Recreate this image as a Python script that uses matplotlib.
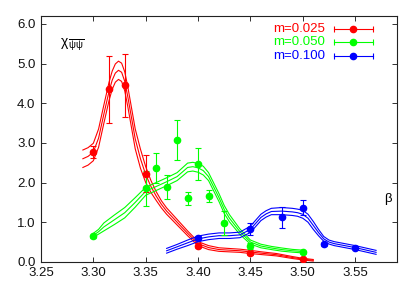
import matplotlib
matplotlib.use("Agg")
import matplotlib.pyplot as plt
import numpy as np

plt.rcParams['font.family'] = ['Liberation Sans', 'DejaVu Sans']
plt.rcParams['mathtext.fontset'] = 'dejavusans'
plt.rcParams['mathtext.default'] = 'regular'

# ---- data points (beta, chi, error) ----
red_x = [3.30, 3.315, 3.33, 3.35, 3.40, 3.45, 3.50]
red_y = [2.77, 4.35, 4.45, 2.22, 0.41, 0.22, 0.06]
red_e = [0.15, 0.85, 0.80, 0.47, 0.07, 0.04, 0.02]

green_x = [3.30, 3.35, 3.36, 3.37, 3.38, 3.39, 3.40, 3.41, 3.425, 3.45, 3.50]
green_y = [0.65, 1.86, 2.36, 1.88, 3.07, 1.60, 2.47, 1.66, 0.99, 0.40, 0.24]
green_e = [0.04, 0.44, 0.38, 0.30, 0.50, 0.17, 0.40, 0.15, 0.30, 0.08, 0.04]

blue_x = [3.40, 3.45, 3.48, 3.50, 3.52, 3.55]
blue_y = [0.60, 0.83, 1.12, 1.37, 0.44, 0.36]
blue_e = [0.05, 0.16, 0.26, 0.18, 0.04, 0.03]

# ---- reweighting curves (centre and half-width) ----
red_cx = [3.290, 3.295, 3.300, 3.305, 3.310, 3.315, 3.318, 3.321, 3.324, 3.327,
          3.330, 3.333, 3.336, 3.340, 3.345, 3.350, 3.355, 3.360, 3.365, 3.370,
          3.380, 3.390, 3.400, 3.410, 3.420, 3.440, 3.450, 3.460, 3.475, 3.490,
          3.500, 3.510]
red_cy = [2.60, 2.66, 2.77, 3.12, 3.72, 4.30, 4.58, 4.76, 4.83, 4.78,
          4.55, 4.15, 3.70, 3.10, 2.60, 2.20, 1.90, 1.66, 1.45, 1.28,
          1.00, 0.72, 0.46, 0.36, 0.31, 0.28, 0.25, 0.22, 0.18, 0.11,
          0.07, 0.04]
red_ce = [0.22, 0.22, 0.22, 0.23, 0.23, 0.23, 0.23, 0.23, 0.23, 0.23,
          0.24, 0.25, 0.25, 0.25, 0.24, 0.20, 0.15, 0.11, 0.09, 0.08,
          0.07, 0.06, 0.05, 0.05, 0.045, 0.04, 0.04, 0.035, 0.03, 0.025,
          0.02, 0.02]

green_cx = [3.300, 3.305, 3.310, 3.320, 3.330, 3.340, 3.350, 3.360, 3.370, 3.380,
            3.390, 3.395, 3.400, 3.405, 3.410, 3.420, 3.425, 3.430, 3.440, 3.450,
            3.460, 3.470, 3.480, 3.490, 3.500]
green_cy = [0.67, 0.76, 0.88, 1.06, 1.24, 1.50, 1.78, 1.90, 2.02, 2.15,
            2.38, 2.40, 2.37, 2.30, 2.15, 1.62, 1.32, 1.10, 0.76, 0.50,
            0.40, 0.35, 0.31, 0.28, 0.26]
green_ce = [0.05, 0.06, 0.10, 0.12, 0.13, 0.12, 0.10, 0.10, 0.10, 0.10,
            0.11, 0.11, 0.11, 0.11, 0.10, 0.10, 0.10, 0.09, 0.07, 0.05,
            0.045, 0.04, 0.04, 0.035, 0.035]

blue_cx = [3.370, 3.380, 3.390, 3.400, 3.410, 3.420, 3.430, 3.440, 3.450, 3.455,
           3.460, 3.465, 3.470, 3.480, 3.490, 3.495, 3.500, 3.505, 3.510, 3.515,
           3.520, 3.525, 3.530, 3.540, 3.550, 3.560, 3.570]
blue_cy = [0.28, 0.38, 0.48, 0.58, 0.63, 0.66, 0.66, 0.68, 0.82, 0.97,
           1.12, 1.21, 1.27, 1.28, 1.26, 1.24, 1.20, 1.10, 0.92, 0.74,
           0.58, 0.50, 0.46, 0.41, 0.36, 0.30, 0.24]
blue_ce = [0.06, 0.06, 0.07, 0.07, 0.07, 0.07, 0.07, 0.07, 0.08, 0.08,
           0.08, 0.08, 0.08, 0.09, 0.09, 0.09, 0.10, 0.10, 0.10, 0.08,
           0.06, 0.05, 0.05, 0.05, 0.05, 0.05, 0.05]

labels = ["m=0.025", "m=0.050", "m=0.100"]
colors = ["#ff0000", "#00ff00", "#0000ff"]

fig = plt.figure(figsize=(4.14, 2.90), dpi=100)
ax = fig.add_axes([0.099, 0.097, 0.860, 0.848])

series = [
    (red_x, red_y, red_e, red_cx, red_cy, red_ce),
    (green_x, green_y, green_e, green_cx, green_cy, green_ce),
    (blue_x, blue_y, blue_e, blue_cx, blue_cy, blue_ce),
]

for (px, py, pe, cx, cy, ce), col in zip(series, colors):
    cx = np.array(cx); cy = np.array(cy); ce = np.array(ce)
    for s in (-1, 0, 1):
        ax.plot(cx, cy + s * ce, color=col, lw=0.8, zorder=2)
    ax.errorbar(px, py, yerr=pe, fmt='o', color=col, ms=4.5, elinewidth=0.8,
                capsize=2.2, capthick=0.8, zorder=3)

ax.set_xlim(3.25, 3.59)
ax.set_ylim(0.0, 6.2)
ax.set_xticks([3.25, 3.30, 3.35, 3.40, 3.45, 3.50, 3.55])
ax.set_yticks([0, 1, 2, 3, 4, 5, 6])
ax.set_xticklabels(["%.2f" % v for v in ax.get_xticks()])
ax.set_yticklabels(["%.1f" % v for v in ax.get_yticks()])
ax.tick_params(direction='in', top=True, right=True, length=3.5, width=0.6,
               labelsize=9.5, colors='#111111', pad=4)
for sp in ax.spines.values():
    sp.set_linewidth(0.8)
    sp.set_color('#222222')

# axis labels inside the plot
ax.text(0.052, 0.885, r'$\chi_{\,\overline{\psi\psi}}$', transform=ax.transAxes,
        fontsize=10, ha='left', va='center')
ax.text(0.975, 0.255, r'$\beta$', transform=ax.transAxes, fontsize=9.5,
        ha='center', va='center')

# legend (gnuplot style)
ly = [0.947, 0.893, 0.837]
for lab, col, yy in zip(labels, colors, ly):
    ax.text(0.798, yy, lab, transform=ax.transAxes, color=col, fontsize=9.5,
            ha='right', va='center')
    ax.plot([0.823, 0.933], [yy, yy], transform=ax.transAxes, color=col, lw=0.8,
            clip_on=False)
    ax.plot([0.823, 0.933], [yy, yy], transform=ax.transAxes, color=col, lw=0,
            marker='|', ms=4, mew=0.8, clip_on=False)
    ax.plot([0.876], [yy], transform=ax.transAxes, color=col, marker='o', ms=4.5,
            clip_on=False)

fig.savefig("out.png", dpi=100)
